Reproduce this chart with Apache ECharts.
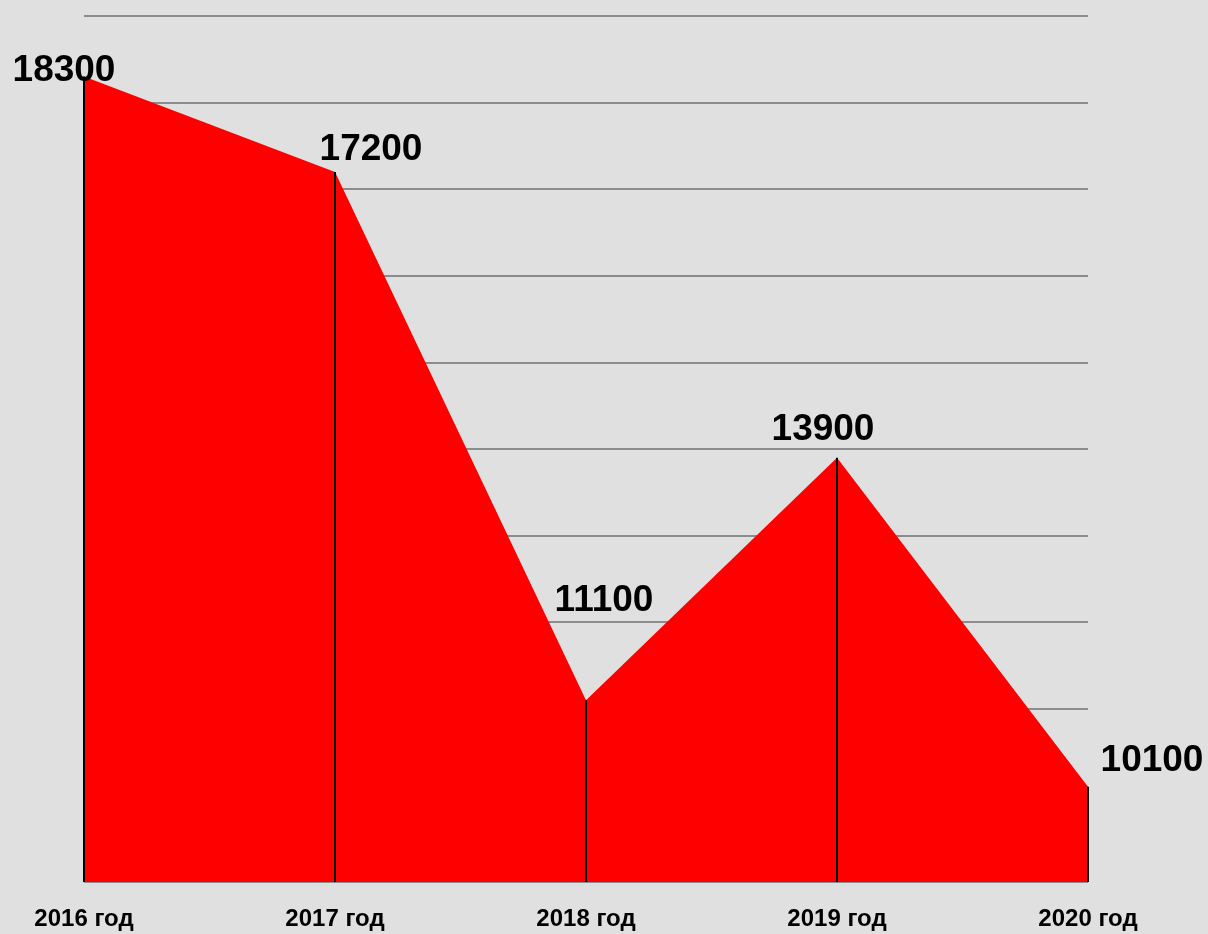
<!DOCTYPE html>
<html>
<head>
<meta charset="utf-8">
<script src="https://cdn.jsdelivr.net/npm/echarts@6/dist/echarts.min.js"></script>
<style>
  html, body {margin: 0; padding: 0; background: #e0e0e0;}
  #chart {width: 1208px; height: 934px;}
</style>
</head>
<body>
<div id="chart"></div>
<script>
const years = ['2016 год', '2017 год', '2018 год', '2019 год', '2020 год'];
const values = [18300, 17200, 11100, 13900, 10100];
// where each value label sits relative to its point
const labelOffsets = [[-20, 13], [36, -4], [18, -81], [-14, -9], [64, -7]];
const yMin = 9000, yMax = 19000, yStep = 1000;

const font = '"Liberation Sans Narrow", "Arial Narrow", "Liberation Sans", Arial, sans-serif';
const chart = echarts.init(document.getElementById('chart'));

chart.setOption({
  backgroundColor: '#e0e0e0',
  animation: false,
  grid: {left: 84, right: 120, top: 16, bottom: 52},
  xAxis: {
    type: 'category',
    data: years,
    boundaryGap: false,
    axisLine: {show: false},
    axisTick: {show: false},
    axisLabel: {
      margin: 25, color: '#000', fontSize: 24, fontWeight: 'bold', fontFamily: font
    }
  },
  yAxis: {
    type: 'value',
    min: yMin, max: yMax, interval: yStep,
    axisLabel: {show: false},
    axisLine: {show: false},
    axisTick: {show: false},
    splitLine: {lineStyle: {color: '#8c8c8c', width: 2}}
  },
  series: [{
    type: 'line',
    data: values.map((v, i) => ({
      value: v,
      label: {offset: labelOffsets[i]}
    })),
    symbol: 'circle',
    symbolSize: 0,
    showSymbol: true,
    lineStyle: {width: 0},
    areaStyle: {color: '#ff0000', opacity: 1, origin: 'start'},
    label: {
      show: true, position: 'top', distance: 0,
      color: '#000', fontSize: 37, fontWeight: 'bold', fontFamily: font
    },
    markLine: {
      silent: true,
      symbol: 'none',
      label: {show: false},
      lineStyle: {color: '#000', width: 2, type: 'solid'},
      data: values.map((v, i) => [
        {coord: [i, yMin]},
        {coord: [i, v]}
      ])
    }
  }]
});
</script>
</body>
</html>
